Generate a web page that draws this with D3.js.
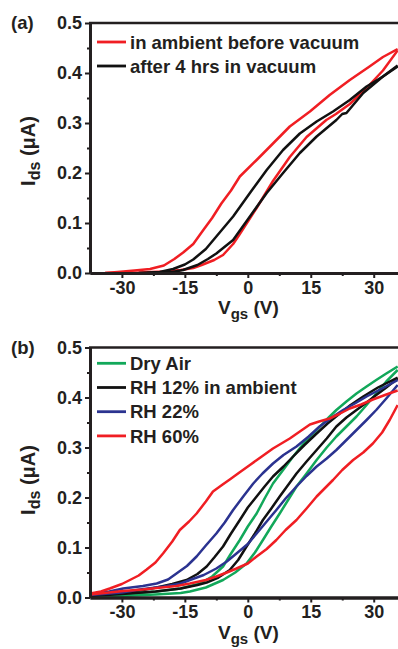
<!DOCTYPE html>
<html><head><meta charset="utf-8">
<script src="https://cdn.jsdelivr.net/npm/d3@7"></script>
<style>body{margin:0;background:#fff}svg{display:block;font-family:"Liberation Sans",Arial,sans-serif}</style>
</head><body><svg id="c" width="398" height="649"></svg>
<script>
// ---------- data ----------
const vgsTicks = [-30, -15, 0, 15, 30];
const vgsTickLabels = ["-30", "-15", "0", "15", "30"];
const vgsMinor = [-22.5, -7.5, 7.5, 22.5];
const idsTicks = [0, 0.1, 0.2, 0.3, 0.4, 0.5];
const idsTickLabels = ["0.0", "0.1", "0.2", "0.3", "0.4", "0.5"];
const idsMinor = [0.05, 0.15, 0.25, 0.35, 0.45];

// panel (a): [Vgs (V), Ids (uA)]
const aAmbientUpper = [[-34,0],[-31,0.002],[-27,0.005],[-23.3,0.008],[-20,0.015],[-17.5,0.028],[-15.4,0.041],[-13,0.058],[-10.6,0.086],[-8.5,0.11],[-6.3,0.139],[-4,0.165],[-1.9,0.193],[2.1,0.226],[6,0.259],[10,0.293],[14.8,0.323],[19.5,0.356],[24.3,0.386],[29,0.413],[32.2,0.432],[35.7,0.448]];
const aAmbientLower = [[-34,0],[-26,0.001],[-20,0.003],[-16,0.006],[-13,0.01],[-11,0.016],[-8,0.026],[-5.9,0.036],[-3.5,0.058],[-1.9,0.078],[2.1,0.13],[6,0.184],[10,0.232],[14,0.272],[18.7,0.306],[21,0.318],[24.3,0.338],[28.3,0.37],[32.2,0.405],[35.7,0.445]];
const aVacuumUpper = [[-26,0],[-21,0.002],[-17.8,0.008],[-15,0.017],[-13,0.027],[-10,0.048],[-7.5,0.073],[-3.5,0.113],[0.5,0.16],[4.5,0.206],[8.4,0.246],[12.4,0.279],[16.4,0.303],[20.3,0.323],[24.3,0.346],[28.3,0.373],[32.2,0.393],[35.7,0.415]];
const aVacuumLower = [[-24,0],[-18,0.002],[-15.4,0.006],[-12,0.016],[-9.5,0.028],[-7.5,0.039],[-3.5,0.066],[0.5,0.113],[4.5,0.16],[8.4,0.2],[12.4,0.24],[16.4,0.273],[21.1,0.306],[22.5,0.318],[23.5,0.32],[25,0.335],[27.5,0.36],[32.2,0.393],[35.7,0.413]];
const aLegend = ["in ambient before vacuum", "after 4 hrs in vacuum"];

// panel (b)
const bDryUpper = [[-37.6,0.002],[-30,0.006],[-21.7,0.012],[-16,0.018],[-11.4,0.028],[-8.5,0.042],[-5.9,0.062],[-4,0.088],[-1.9,0.115],[0,0.142],[2.1,0.168],[4,0.198],[6,0.228],[8.5,0.256],[10.8,0.282],[13.5,0.31],[16.4,0.335],[18.8,0.356],[21.1,0.375],[23.5,0.392],[25.9,0.408],[28.3,0.422],[30.6,0.435],[33,0.448],[35.7,0.462]];
const bDryLower = [[-37.6,0.001],[-30,0.003],[-22,0.006],[-16,0.009],[-13.8,0.012],[-10,0.02],[-5.9,0.035],[-3,0.05],[-0.3,0.068],[1.7,0.09],[3.6,0.115],[5.6,0.142],[7.6,0.168],[9.6,0.195],[11.6,0.222],[14,0.248],[16.4,0.275],[18.8,0.3],[21.1,0.322],[23.5,0.342],[25.9,0.362],[28.3,0.385],[30.6,0.408],[33,0.432],[35.7,0.455]];
const bRH12Upper = [[-37.6,0.004],[-30,0.01],[-25,0.015],[-21.7,0.02],[-18,0.027],[-14.6,0.035],[-12,0.047],[-9.8,0.062],[-8,0.08],[-5.9,0.102],[-4,0.128],[-1.9,0.155],[0,0.18],[2.1,0.202],[4,0.222],[6,0.242],[8.5,0.262],[10.8,0.282],[13.5,0.305],[16.4,0.328],[19,0.348],[21.9,0.368],[24.5,0.385],[27.5,0.402],[31,0.42],[35.7,0.44]];
const bRH12Lower = [[-37.6,0.003],[-30,0.007],[-22,0.012],[-16,0.018],[-12,0.025],[-9.8,0.03],[-7,0.04],[-4.3,0.055],[-2.3,0.075],[-0.3,0.102],[1.7,0.128],[3.6,0.155],[5.6,0.178],[7.6,0.202],[9.6,0.225],[11.6,0.248],[14,0.272],[16.4,0.295],[18.8,0.318],[21.1,0.342],[23.5,0.36],[25.9,0.375],[28.3,0.39],[30.6,0.405],[33,0.42],[35.7,0.438]];
const bRH22Upper = [[-37.6,0.006],[-33,0.012],[-29.7,0.018],[-25,0.023],[-21.7,0.028],[-19,0.036],[-17,0.048],[-14.5,0.063],[-12.2,0.082],[-10,0.104],[-7.5,0.128],[-5.5,0.15],[-3.5,0.175],[-1,0.203],[1.3,0.228],[3.5,0.248],[6,0.268],[8.5,0.285],[11.6,0.302],[14.5,0.322],[17.1,0.342],[20,0.36],[22.7,0.375],[25.5,0.388],[28.3,0.402],[32,0.418],[35.7,0.435]];
const bRH22Lower = [[-37.6,0.005],[-30,0.01],[-25.7,0.016],[-20,0.022],[-16,0.028],[-13.8,0.035],[-10.5,0.045],[-7.5,0.058],[-5,0.072],[-2.7,0.088],[0,0.107],[2.1,0.128],[4.5,0.152],[6.8,0.175],[9,0.198],[11.6,0.222],[14,0.243],[16.4,0.262],[18.8,0.278],[21.1,0.295],[23.5,0.315],[25.9,0.335],[28.3,0.355],[30.6,0.375],[33,0.398],[35.7,0.425]];
const bRH60Upper = [[-37.6,0.008],[-35,0.012],[-32.9,0.018],[-30,0.027],[-28.1,0.035],[-26,0.044],[-24.1,0.056],[-22,0.07],[-20.2,0.088],[-18,0.112],[-16.2,0.135],[-14,0.152],[-12.2,0.168],[-10,0.192],[-8.3,0.212],[-6,0.226],[-4.3,0.236],[-2,0.25],[0.5,0.265],[3,0.28],[6,0.298],[10,0.318],[14.8,0.346],[17,0.352],[19.5,0.358],[22,0.368],[24.3,0.378],[27,0.386],[29.8,0.396],[33,0.406],[35.7,0.414]];
const bRH60Lower = [[-37.6,0.006],[-33,0.01],[-29.7,0.013],[-25,0.016],[-21.7,0.019],[-17,0.023],[-13.8,0.028],[-10,0.035],[-7.5,0.042],[-5,0.05],[-2.7,0.058],[0,0.068],[2.1,0.082],[4.5,0.097],[6.8,0.115],[9,0.135],[11.6,0.155],[14,0.178],[16.4,0.202],[20.3,0.235],[22.5,0.255],[25.1,0.275],[27.5,0.29],[29.8,0.308],[32,0.33],[33.8,0.355],[35.7,0.385]];
const bLegend = ["Dry Air", "RH 12% in ambient", "RH 22%", "RH 60%"];

const RED = "#f01e23", BLACK = "#111111", BLUE = "#2b3390", GREEN = "#12a85a";

// ---------- drawing ----------
const svg = d3.select("#c");
const TXT = "#231f20";
const FONT = "Liberation Sans, Arial, sans-serif";

function panel(cfg) {
  const x = d3.scaleLinear().domain([-37.6, 36.5]).range([90, 401]);
  const y = d3.scaleLinear().domain([0, 0.5]).range([cfg.y0, cfg.y0 - 250]);
  const g = svg.append("g");
  const clipId = "clip" + cfg.id;
  svg.append("clipPath").attr("id", clipId).append("rect")
    .attr("x", 90).attr("y", cfg.y0 - 250).attr("width", 311).attr("height", 250);

  // curves
  const line = d3.line().x(d => x(d[0])).y(d => y(d[1]));
  const cg = g.append("g").attr("clip-path", `url(#${clipId})`);
  cfg.series.forEach(s => {
    cg.append("path").datum(s.data).attr("d", line)
      .attr("fill", "none").attr("stroke", s.color).attr("stroke-width", 2.5)
      .attr("stroke-linejoin", "round");
  });

  // axes
  const xAxis = d3.axisBottom(x).tickValues(vgsTicks).tickFormat((d, i) => vgsTickLabels[i]).tickSize(5).tickSizeOuter(0).tickPadding(3);
  const xMinor = d3.axisBottom(x).tickValues(vgsMinor).tickFormat("").tickSize(3).tickSizeOuter(0);
  const yAxis = d3.axisLeft(y).tickValues(idsTicks).tickFormat((d, i) => idsTickLabels[i]).tickSize(5).tickSizeOuter(0).tickPadding(3);
  const yMinor = d3.axisLeft(y).tickValues(idsMinor).tickFormat("").tickSize(3).tickSizeOuter(0);

  const style = a => {
    a.select(".domain").attr("stroke", TXT).attr("stroke-width", 2.8);
    a.selectAll(".tick line").attr("stroke", TXT).attr("stroke-width", 2);
    a.selectAll(".tick text").attr("fill", TXT).attr("font-size", 18).attr("font-weight", "bold")
      .attr("font-family", FONT);
  };
  [xMinor, xAxis].forEach(ax => style(g.append("g").attr("transform", `translate(0,${cfg.y0})`).call(ax)));
  [yMinor, yAxis].forEach(ax => style(g.append("g").attr("transform", `translate(90,0)`).call(ax)));

  // top frame
  g.append("line").attr("x1", 89).attr("x2", 401).attr("y1", y(0.5)).attr("y2", y(0.5))
    .attr("stroke", TXT).attr("stroke-width", 2.4);

  // panel label
  g.append("text").attr("x", 11).attr("y", cfg.y0 - 244).attr("font-size", 18.5).attr("fill", TXT)
    .attr("font-weight", "bold").text(cfg.label);

  // x title
  const xt = g.append("text").attr("x", 218).attr("y", cfg.y0 + 41).attr("font-size", 19)
    .attr("font-weight", "bold").attr("fill", TXT);
  xt.append("tspan").text("V");
  xt.append("tspan").attr("font-size", 15).attr("dy", 5).text("gs");
  xt.append("tspan").attr("dy", -5).text(" (V)");

  // y title
  const yt = g.append("text").attr("transform", `translate(35,${cfg.titleY}) rotate(-90)`)
    .attr("text-anchor", "middle")
    .attr("font-size", 20).attr("font-weight", "bold").attr("fill", TXT);
  yt.append("tspan").text("I");
  yt.append("tspan").attr("font-size", 16).attr("dy", 5).text("ds");
  yt.append("tspan").attr("dy", -5).text(" (\u03bcA)");

  // legend
  cfg.legend.forEach((l, i) => {
    const ly = cfg.legendY + i * cfg.legendStep;
    g.append("line").attr("x1", 97).attr("x2", 126).attr("y1", ly).attr("y2", ly)
      .attr("stroke", l.color).attr("stroke-width", 2.8);
    g.append("text").attr("x", 130).attr("y", ly + 6.6).attr("font-size", 18.5).attr("font-weight", "bold")
      .attr("fill", TXT).text(l.text);
  });
}

panel({
  id: "a", y0: 273, label: "(a)", titleY: 151,
  series: [
    {data: aAmbientUpper, color: RED}, {data: aAmbientLower, color: RED},
    {data: aVacuumUpper, color: BLACK}, {data: aVacuumLower, color: BLACK}
  ],
  legend: [{text: aLegend[0], color: RED}, {text: aLegend[1], color: BLACK}],
  legendY: 42, legendStep: 24
});

panel({
  id: "b", y0: 597.5, label: "(b)", titleY: 480,
  series: [
    {data: bDryUpper, color: GREEN}, {data: bDryLower, color: GREEN},
    {data: bRH12Upper, color: BLACK}, {data: bRH12Lower, color: BLACK},
    {data: bRH22Upper, color: BLUE}, {data: bRH22Lower, color: BLUE},
    {data: bRH60Upper, color: RED}, {data: bRH60Lower, color: RED}
  ],
  legend: [
    {text: bLegend[0], color: GREEN}, {text: bLegend[1], color: BLACK},
    {text: bLegend[2], color: BLUE}, {text: bLegend[3], color: RED}
  ],
  legendY: 363.3, legendStep: 24.2
});
</script></body></html>
